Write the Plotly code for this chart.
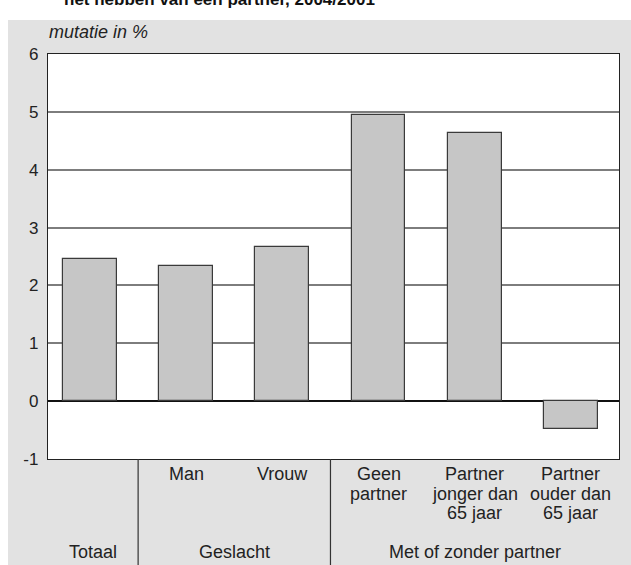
import plotly.graph_objects as go

# ---- data ----
categories = ["Totaal", "Man", "Vrouw", "Geen partner", "Partner jonger dan 65 jaar", "Partner ouder dan 65 jaar"]
values = [2.46, 2.33, 2.66, 4.94, 4.63, -0.49]
cat_label_lines = [[], ["Man"], ["Vrouw"], ["Geen", "partner"],
                   ["Partner", "jonger dan", "65 jaar"], ["Partner", "ouder dan", "65 jaar"]]
groups = ["Totaal", "Geslacht", "Met of zonder partner"]
group_spans = [(-0.437, 0.5), (0.5, 2.5), (2.5, 5.5)]
y_ticks = [-1, 0, 1, 2, 3, 4, 5, 6]
y_title = "mutatie in %"
title_text = "het hebben van een partner, 2004/2001"

W, H = 631, 565
L, R, T, B = 48, 12, 54, 106
PW, PH = W - L - R, H - T - B
FONT = "Liberation Sans, Arial, Helvetica, sans-serif"

def py(pix):  # pixel y -> paper y
    return (H - B - pix) / PH

def px(pix):
    return (pix - L) / PW

xs = list(range(len(categories)))

fig = go.Figure()
fig.add_trace(go.Bar(
    x=xs, y=values, width=0.56,
    marker=dict(color="#c6c6c6", line=dict(color="#3a3a3a", width=1.2)),
    hoverinfo="skip", showlegend=False,
))

annotations = []
line_gap = 19.5
for i, lines in enumerate(cat_label_lines):
    for j, ln in enumerate(lines):
        annotations.append(dict(
            x=xs[i], xref="x", y=py(474 + j * line_gap), yref="paper",
            text=ln, showarrow=False, xanchor="center", yanchor="middle",
            font=dict(family=FONT, size=18, color="#222")))
for g, (a, b) in zip(groups, group_spans):
    annotations.append(dict(
        x=(a + b) / 2, xref="x", y=py(552), yref="paper",
        text=g, showarrow=False, xanchor="center", yanchor="middle",
        font=dict(family=FONT, size=18, color="#222")))
annotations.append(dict(
    x=px(47), xref="paper", y=py(32), yref="paper", text=y_title,
    showarrow=False, xanchor="left", yanchor="middle",
    font=dict(family=FONT, size=18, color="#222", style="italic")))
annotations.append(dict(
    x=px(62), xref="paper", y=py(11), yref="paper", text="<b>" + title_text + "</b>",
    showarrow=False, xanchor="left", yanchor="bottom",
    font=dict(family=FONT, size=17, color="#111")))

shapes = [
    dict(type="rect", xref="paper", yref="paper", x0=px(0), x1=px(W), y0=py(0), y1=py(20),
         fillcolor="white", line=dict(width=0), layer="above"),
    dict(type="rect", xref="paper", yref="paper", x0=px(0), x1=px(8), y0=py(20), y1=py(H),
         fillcolor="white", line=dict(width=0), layer="above"),
]
for sep in [0.5, 2.5]:
    shapes.append(dict(type="line", xref="x", yref="paper", x0=sep, x1=sep,
                       y0=0, y1=py(H), line=dict(color="#333", width=1.2)))

fig.update_layout(
    width=W, height=H,
    margin=dict(l=L, r=R, t=T, b=B, pad=0),
    paper_bgcolor="#e2e2e2", plot_bgcolor="white",
    bargap=0,
    annotations=annotations, shapes=shapes,
    font=dict(family=FONT, color="#222"),
    xaxis=dict(range=[-0.437, 5.5], showticklabels=False, showgrid=False, zeroline=False,
               showline=True, mirror=True, linecolor="#222", linewidth=1.3, ticks="",
               fixedrange=True),
    yaxis=dict(range=[-1, 6], tickvals=y_ticks, ticktext=[str(v) for v in y_ticks],
               showgrid=True, gridcolor="#7d7d7d", gridwidth=1.5,
               zeroline=True, zerolinecolor="#111", zerolinewidth=1.5,
               showline=True, mirror=True, linecolor="#222", linewidth=1.3,
               ticks="", ticklabelstandoff=5,
               tickfont=dict(family=FONT, size=17, color="#222"), fixedrange=True),
)

fig.write_html("out.html", config={"displayModeBar": False},
               post_script="document.body.style.margin='0';document.body.style.overflow='hidden';")
